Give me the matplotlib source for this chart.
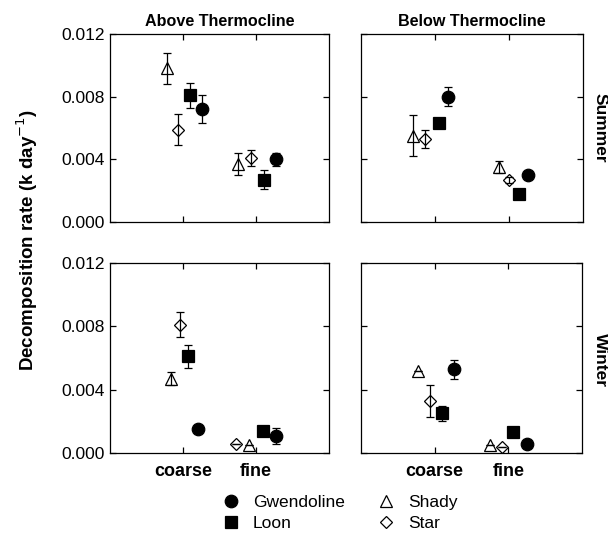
import numpy as np
import matplotlib
matplotlib.use("Agg")
import matplotlib.pyplot as plt
from matplotlib.lines import Line2D

plt.rcParams['font.family'] = ['Liberation Sans', 'DejaVu Sans']

# ---- data (panel order: above/summer, below/summer, above/winter, below/winter)
CATS = ['coarse', 'fine']
SERIES = ['Gwendoline', 'Loon', 'Shady', 'Star']

gwen       = [[0.0072, 0.0040], [0.0080, 0.0030], [0.0015, 0.0011], [0.0053, 0.0006]]
gwen_err   = [[0.0009, 0.0004], [0.0006, 0.0000], [0.0000, 0.0005], [0.0006, 0.0000]]
loon       = [[0.0081, 0.0027], [0.0063, 0.0018], [0.0061, 0.0014], [0.0025, 0.0013]]
loon_err   = [[0.0008, 0.0006], [0.0000, 0.0000], [0.0007, 0.0000], [0.0005, 0.0000]]
shady      = [[0.0098, 0.0037], [0.0055, 0.0035], [0.0047, 0.0005], [0.0052, 0.0005]]
shady_err  = [[0.0010, 0.0007], [0.0013, 0.0004], [0.0004, 0.0000], [0.0000, 0.0000]]
star       = [[0.0059, 0.0041], [0.0053, 0.0027], [0.0081, 0.0006], [0.0033, 0.0004]]
star_err   = [[0.0010, 0.0005], [0.0006, 0.0002], [0.0008, 0.0000], [0.0010, 0.0000]]

# horizontal dodge of each series within a panel: [coarse, fine]
DODGE = {
    'Gwendoline': [[0.26, 0.28], [0.18, 0.25], [0.20, 0.28], [0.26, 0.25]],
    'Loon':       [[0.09, 0.11], [0.05, 0.14], [0.07, 0.09], [0.10, 0.07]],
    'Shady':      [[-0.22, -0.25], [-0.30, -0.13], [-0.16, -0.10], [-0.23, -0.25]],
    'Star':       [[-0.07, -0.07], [-0.13, 0.00], [-0.04, -0.27], [-0.07, -0.09]],
}

VALS = {'Gwendoline': (gwen, gwen_err), 'Loon': (loon, loon_err),
        'Shady': (shady, shady_err), 'Star': (star, star_err)}
STY = {
    'Gwendoline': dict(marker='o', mfc='black', ms=9),
    'Loon':       dict(marker='s', mfc='black', ms=9),
    'Shady':      dict(marker='^', mfc='none', ms=9),
    'Star':       dict(marker='D', mfc='none', ms=6.5),
}

fig = plt.figure(figsize=(6.08, 5.39), dpi=100)
W, H = 608, 539
boxes = [(110, 34, 329, 222), (361, 34, 583, 222),
         (110, 263, 329, 453), (361, 263, 582, 453)]
axes = []
for (l, t, r, b) in boxes:
    axes.append(fig.add_axes([l / W, 1 - b / H, (r - l) / W, (b - t) / H]))

xp = np.arange(1, len(CATS) + 1)
for pi, ax in enumerate(axes):
    for s in SERIES:
        vals, errs = VALS[s]
        x = xp + np.array(DODGE[s][pi])
        ax.errorbar(x, vals[pi], yerr=errs[pi], fmt='none', ecolor='black',
                    elinewidth=0.9, capsize=3, capthick=0.9, zorder=2)
        ax.plot(x, vals[pi], ls='none', mec='black', mew=0.9, zorder=3,
                **STY[s])
    ax.set_xlim(0, 3)
    ax.set_ylim(0, 0.012)
    ax.set_xticks(xp)
    ax.set_yticks([0, 0.004, 0.008, 0.012])
    ax.tick_params(direction='in', top=True, right=True, length=4,
                   width=0.9, labelsize=12.5)
    for sp in ax.spines.values():
        sp.set_linewidth(0.9)
    if pi in (0, 2):
        ax.set_yticklabels(['0.000', '0.004', '0.008', '0.012'])
    else:
        ax.set_yticklabels([])
    if pi >= 2:
        ax.set_xticklabels(CATS, fontsize=13, fontweight='bold')
        ax.tick_params(axis='x', pad=7)
    else:
        ax.set_xticklabels([])

axes[0].set_title('Above Thermocline', fontsize=11.6, fontweight='bold', pad=6)
axes[1].set_title('Below Thermocline', fontsize=11.6, fontweight='bold', pad=6)
fig.text(600 / W, 1 - 128 / H, 'Summer', rotation=-90, fontsize=12.5,
         fontweight='bold', ha='center', va='center')
fig.text(600 / W, 1 - 360 / H, 'Winter', rotation=-90, fontsize=12.5,
         fontweight='bold', ha='center', va='center')
fig.text(27 / W, 1 - 240 / H, 'Decomposition rate (k day$^{-1}$)',
         rotation=90, fontsize=13.5, fontweight='bold', ha='center', va='center')

handles = [Line2D([], [], ls='none', mec='black', mew=0.9, **STY[s])
           for s in SERIES]
fig.legend(handles, SERIES, loc='center', bbox_to_anchor=(339 / W, 1 - 513 / H),
           ncol=2, frameon=False, fontsize=12.5, columnspacing=1.75,
           handletextpad=0.7, labelspacing=0.35, handlelength=1.2)

fig.savefig('out.png', dpi=100)
